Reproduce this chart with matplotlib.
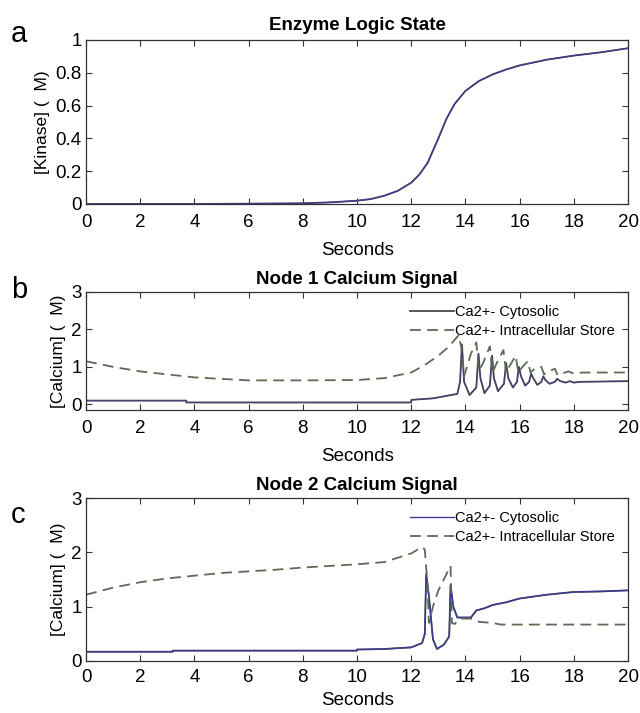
import numpy as np
import matplotlib.pyplot as plt

# panel a: kinase logic state
t_kin = [0, 4, 8, 9, 10, 10.5, 11, 11.5, 12, 12.3, 12.6, 13, 13.3, 13.6, 14, 14.5, 15, 15.5, 16, 17, 18, 19, 20]
kinase = [0, 0, 0.004, 0.01, 0.02, 0.03, 0.05, 0.08, 0.13, 0.18, 0.25, 0.4, 0.52, 0.61, 0.69, 0.75, 0.79, 0.82, 0.845, 0.88, 0.905, 0.925, 0.95]

# panel b: node 1 calcium
t_cyt1 = [0, 3.7, 3.7, 12, 12, 12.8, 13.7, 13.8, 13.87, 13.95, 14.15, 14.4, 14.48, 14.55, 14.7,
          14.9, 14.98, 15.05, 15.2, 15.42, 15.5, 15.58, 15.75, 15.9, 15.97, 16.05, 16.2,
          16.35, 16.42, 16.5, 16.65, 16.8, 16.87, 16.95, 17.1, 17.3, 17.38, 17.5, 17.7, 17.85, 18, 18.2, 20]
cyt1 = [0.1, 0.1, 0.05, 0.05, 0.12, 0.16, 0.28, 0.6, 1.6, 0.6, 0.25, 0.45, 1.35, 0.7, 0.3,
        0.5, 1.3, 0.7, 0.35, 0.55, 1.1, 0.7, 0.45, 0.6, 1.0, 0.75, 0.5,
        0.6, 0.82, 0.7, 0.52, 0.6, 0.75, 0.65, 0.55, 0.6, 0.68, 0.62, 0.58, 0.62, 0.58, 0.6, 0.62]
t_store1 = [0, 1, 2, 3, 4, 5, 6, 8, 10, 11, 12, 12.5, 13, 13.4, 13.75, 13.85, 13.95,
            14.2, 14.4, 14.5, 14.65, 14.9, 15.0, 15.15, 15.4, 15.5, 15.65, 15.85, 15.95, 16.1,
            16.3, 16.4, 16.55, 16.8, 16.9, 17.05, 17.3, 17.4, 17.55, 17.8, 18, 18.3, 20]
store1 = [1.15, 1.0, 0.88, 0.8, 0.72, 0.68, 0.64, 0.64, 0.65, 0.7, 0.85, 1.05, 1.3, 1.55, 1.85, 1.5, 0.75,
          1.35, 1.65, 0.9, 1.1, 1.55, 0.85, 1.1, 1.45, 0.85, 1.05, 1.3, 0.85, 1.0,
          1.15, 0.85, 0.95, 1.0, 0.8, 0.88, 0.95, 0.78, 0.82, 0.88, 0.82, 0.85, 0.85]

# panel c: node 2 calcium
t_cyt2 = [0, 3.2, 3.2, 10, 10, 11, 12, 12.4, 12.5, 12.55, 12.65, 12.8, 12.95, 13.2, 13.4,
          13.45, 13.55, 13.7, 14.2, 14.4, 14.7, 15, 15.5, 16, 17, 18, 19, 20]
cyt2 = [0.17, 0.17, 0.19, 0.19, 0.21, 0.22, 0.25, 0.33, 0.5, 1.6, 1.2, 0.4, 0.22, 0.3, 0.45,
        1.4, 1.0, 0.8, 0.8, 0.93, 0.97, 1.03, 1.08, 1.15, 1.22, 1.27, 1.28, 1.3]
t_store2 = [0, 1, 2, 3, 4, 5, 6, 7, 8, 9, 10, 11, 11.5, 12, 12.4, 12.5, 12.6, 12.65, 12.8,
            13.0, 13.3, 13.45, 13.5, 13.6, 13.8, 14.2, 14.5, 15, 15.3, 20]
store2 = [1.22, 1.35, 1.45, 1.52, 1.57, 1.62, 1.65, 1.68, 1.72, 1.75, 1.78, 1.82, 1.9, 1.98, 2.1, 2.05, 1.4, 0.7, 1.0,
          1.3, 1.6, 1.75, 0.7, 0.68, 0.78, 0.78, 0.72, 0.7, 0.67, 0.67]

xticks = [0, 2, 4, 6, 8, 10, 12, 14, 16, 18, 20]

plt.rcParams['font.family'] = ['Liberation Sans', 'DejaVu Sans']

fig = plt.figure(figsize=(6.4, 7.13), dpi=100)
L, W = 0.1344, 0.847
axa = fig.add_axes([L, 0.7139, W, 0.230])
axb = fig.add_axes([L, 0.425, W, 0.1655])
axc = fig.add_axes([L, 0.0730, W, 0.2285])

cyt_col = '#3b3b95'
gray_col = '#4a4a4a'
store_col = '#5d6b55'
dash = (0, (6, 3.5))

axa.plot(t_kin, kinase, color=gray_col, lw=1.3)
axa.plot(t_kin, kinase, color=cyt_col, lw=0.9)
axa.set_ylim(0, 1)
axa.set_yticks([0, 0.2, 0.4, 0.6, 0.8, 1])
axa.set_yticklabels(['0', '0.2', '0.4', '0.6', '0.8', '1'])
axa.set_title('Enzyme Logic State', fontsize=13.5, fontweight='bold', pad=7)
axa.set_ylabel('[Kinase] (  M)', fontsize=12.5)

axb.plot(t_cyt1, cyt1, color=gray_col, lw=1.3, label='Ca2+- Cytosolic')
axb.plot(t_cyt1, cyt1, color=cyt_col, lw=0.8, alpha=0.6)
axb.plot(t_store1, store1, color=store_col, lw=1.3, ls=dash, label='Ca2+- Intracellular Store')
axb.set_ylim(-0.15, 3)
axb.set_yticks([0, 1, 2, 3])
axb.set_title('Node 1 Calcium Signal', fontsize=13.5, fontweight='bold', pad=6)
axb.set_ylabel('[Calcium] (  M)', fontsize=12.5)

axc.plot(t_cyt2, cyt2, color=gray_col, lw=1.3)
axc.plot(t_cyt2, cyt2, color=cyt_col, lw=1.0, label='Ca2+- Cytosolic')
axc.plot(t_store2, store2, color=store_col, lw=1.3, ls=dash, label='Ca2+- Intracellular Store')
axc.set_ylim(0, 3)
axc.set_yticks([0, 1, 2, 3])
axc.set_title('Node 2 Calcium Signal', fontsize=13.5, fontweight='bold', pad=6)
axc.set_ylabel('[Calcium] (  M)', fontsize=12.5)

for ax in (axb, axc):
    ax.legend(loc='upper right', frameon=False, fontsize=10.5, handlelength=3.0,
              handletextpad=0.1, labelspacing=0.35, borderaxespad=0.5)

for ax in (axa, axb, axc):
    ax.set_xlim(0, 20)
    ax.set_xticks(xticks)
    ax.tick_params(direction='in', top=True, right=True, labelsize=13.5, length=4, color='#333333', pad=3)
    for s in ax.spines.values():
        s.set_color('#333333')
        s.set_linewidth(0.9)

for ax in (axa, axb):
    ax.set_xlabel('Seconds', fontsize=13.5, labelpad=8)
    ax.tick_params(axis='x', pad=7)
axc.set_xlabel('Seconds', fontsize=13.5, labelpad=4)
axc.tick_params(axis='x', pad=6)

fig.text(0.017, 0.953, 'a', fontsize=21, va='center')
fig.text(0.017, 0.593, 'b', fontsize=21, va='center')
fig.text(0.017, 0.278, 'c', fontsize=21, va='center')

fig.savefig('out.png', dpi=100)
